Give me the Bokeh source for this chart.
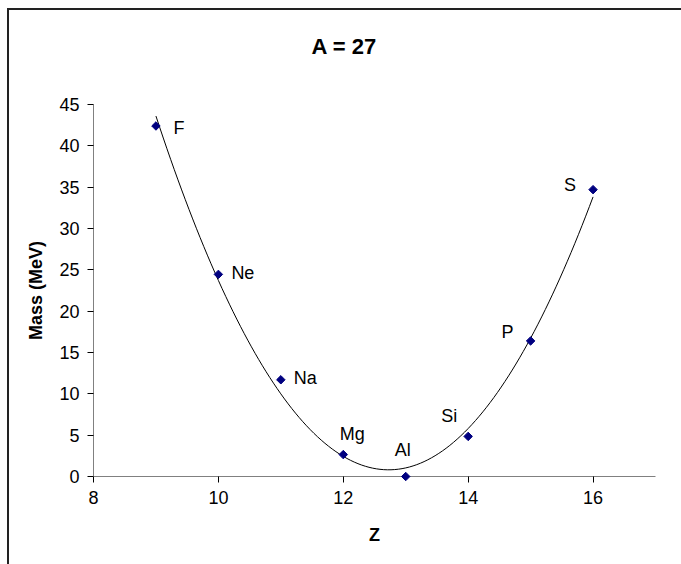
import numpy as np
from bokeh.plotting import figure
from bokeh.models import ColumnDataSource, LabelSet, FixedTicker, Range1d
from bokeh.core.properties import value
from bokeh.embed import file_html
from bokeh.resources import INLINE

# ---------------- data ----------------
symbols = ["F", "Ne", "Na", "Mg", "Al", "Si", "P", "S"]
z_values = [9, 10, 11, 12, 13, 14, 15, 16]
mass_mev = [42.4, 24.45, 11.7, 2.65, 0.0, 4.85, 16.4, 34.7]

x_ticks = [8, 10, 12, 14, 16]
y_ticks = [0, 5, 10, 15, 20, 25, 30, 35, 40, 45]

title_text = "A = 27"
x_label = "Z"
y_label = "Mass (MeV)"

trend_degree = 2  # polynomial trendline (fit of the data points)

# ---------------- label placement (style) ----------------
label_dx = [17.6, 13, 13, 9, -3, -11, -17, -17]
label_dy = [-8, -5, -4, 15, 21, 14, 3, -1]
label_align = ["left", "left", "left", "center", "center", "right", "right", "right"]

FONT = "Liberation Sans"

p = figure(width=681, height=564, output_backend="svg", toolbar_location=None,
           x_range=Range1d(8, 17), y_range=Range1d(0, 45),
           min_border_left=93, min_border_right=26,
           min_border_top=104, min_border_bottom=88,
           background_fill_color=None, border_fill_color=None)
p.outline_line_color = None
p.grid.visible = False

# outer chart-area border (left and top edges visible; cropped right/bottom)
p.styles = {
    "background": ("linear-gradient(#222222, #222222) 7px 8px / 2px 100% no-repeat, "
                   "linear-gradient(#222222, #222222) 7px 8px / 100% 2px no-repeat, "
                   "#ffffff"),
}

# title (an empty second line lifts the text towards the top of the chart area)
p.title.text = title_text + "\n "
p.title.align = "left"
p.title.offset = 218
p.title.standoff = 42
p.title.text_font = FONT
p.title.text_font_size = "22px"
p.title.text_font_style = "bold"
p.title.text_color = "black"

# trendline: least-squares polynomial of the plotted data
coef = np.polyfit(z_values, mass_mev, trend_degree)
zz = np.linspace(min(z_values), max(z_values), 120)
p.line(zz, np.polyval(coef, zz), line_color="black", line_width=1)

src = ColumnDataSource(dict(z=z_values, mass=mass_mev, sym=symbols,
                            dx=label_dx, dy=label_dy, align=label_align))
pts = p.scatter("z", "mass", source=src, marker="square", angle=np.pi / 4, size=6,
                fill_color="#000080", line_color="#000080")
pts.level = "overlay"

labels = LabelSet(x="z", y="mass", text="sym", source=src,
                  x_offset="dx", y_offset="dy", text_align="align",
                  text_baseline="alphabetic", text_font=value(FONT),
                  text_font_size=value("18px"), text_color="black")
p.add_layout(labels)

# axes
for ax in (p.xaxis[0], p.yaxis[0]):
    ax.axis_line_color = "#808080"
    ax.axis_line_width = 1
    ax.major_tick_line_color = "black"
    ax.major_tick_in = 0
    ax.major_tick_out = 6
    ax.minor_tick_line_color = None
    ax.major_label_text_font = FONT
    ax.major_label_text_font_size = "18px"
    ax.major_label_text_color = "black"
    ax.axis_label_text_font = FONT
    ax.axis_label_text_font_size = "18px"
    ax.axis_label_text_font_style = "bold"
    ax.axis_label_text_color = "black"
    ax.major_label_standoff = 8

p.xaxis[0].ticker = FixedTicker(ticks=x_ticks)
p.yaxis[0].ticker = FixedTicker(ticks=y_ticks)
p.xaxis[0].axis_label = x_label
p.yaxis[0].axis_label = y_label
p.xaxis[0].axis_label_standoff = 18
p.yaxis[0].axis_label_standoff = 10

open("out.html", "w").write(file_html(p, INLINE))
